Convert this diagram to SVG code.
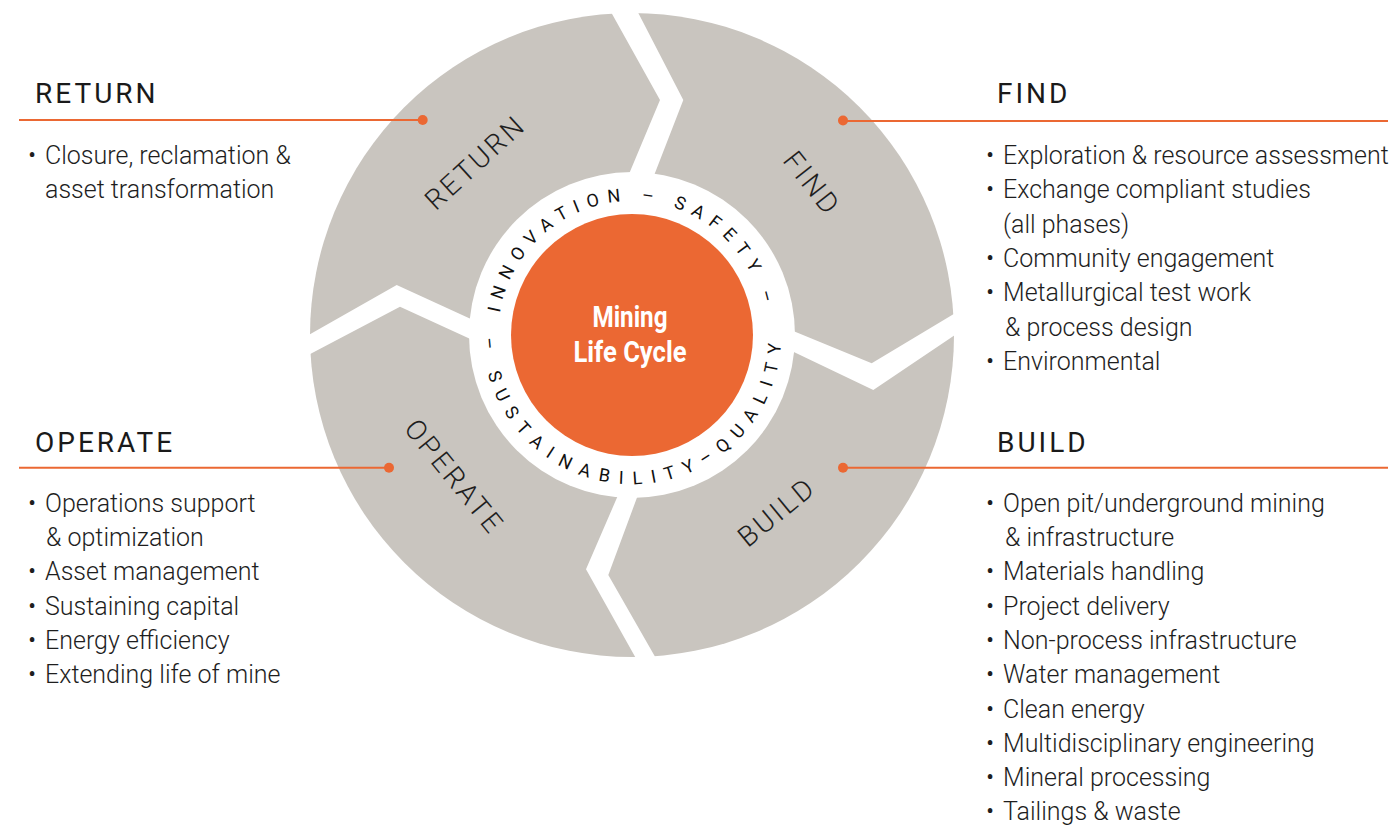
<svg xmlns="http://www.w3.org/2000/svg" width="1393" height="830" viewBox="0 0 1393 830">
  <style>
    .gray { fill: #c9c5bf; }
    .gap { fill: #ffffff; }
    .head { font-family: Roboto, "Liberation Sans", sans-serif; font-size: 28px; font-weight: 400; letter-spacing: 3px; fill: #1a1a1a; }
    .seg { font-family: Roboto, "Liberation Sans", sans-serif; font-size: 28px; font-weight: 300; letter-spacing: 3px; fill: #1e1e1e; text-anchor: middle; }
    .li { font-family: Roboto, "Liberation Sans", sans-serif; font-size: 25px; font-weight: 300; fill: #1e1e1e; }
    .ring { font-family: Roboto, "Liberation Sans", sans-serif; font-size: 18px; font-weight: 400; fill: #111111; }
    .title { font-family: Roboto, "Liberation Sans", sans-serif; font-size: 29px; font-weight: 700; fill: #ffffff; text-anchor: middle; }
    .conn { stroke: #eb6833; stroke-width: 2; fill: none; }
    .dot { fill: #eb6833; }
  </style>
  <defs>
    <path id="arcTop" d="M 498 335 A 134 134 0 0 1 766 335"/>
    <path id="arcBot" d="M 483 335 A 149 149 0 1 0 778.7 309.1"/>
  </defs>
  <rect width="1393" height="830" fill="#ffffff"/>

  <g id="wheel">
    <circle class="gray" cx="632" cy="335" r="322"/>
    <polygon class="gap" points="601.5,-5 660,100 622.3,190 648.4,190 683.3,100 629,-5"/>
    <polygon class="gap" points="295,342.8 396.7,285 490,327.8 490,348 400,306.7 295,362.1"/>
    <polygon class="gap" points="775,323.5 871.7,363.3 975,301.3 975,321.5 873.3,390 775,342.9"/>
    <polygon class="gap" points="624.6,480 586,569.3 645.3,675 665.5,675 608.3,575 643.5,480"/>
  </g>

  <g id="core">
    <circle cx="632" cy="335" r="163" fill="#ffffff"/>
    <circle cx="632" cy="335" r="121" fill="#eb6833"/>
    <text class="ring" letter-spacing="8"><textPath href="#arcTop" startOffset="22">INNOVATION – SAFETY –</textPath></text>
    <text class="ring" letter-spacing="9.6"><textPath href="#arcBot" startOffset="3">– SUSTAINABILITY–QUALITY</textPath></text>
    <text class="title" x="630" y="327" textLength="75" lengthAdjust="spacingAndGlyphs">Mining</text>
    <text class="title" x="630" y="362" textLength="113" lengthAdjust="spacingAndGlyphs">Life Cycle</text>
  </g>

  <g id="seg-return"><text class="seg" transform="translate(475,162) rotate(-42.4)" x="0" y="10">RETURN</text></g>
  <g id="seg-find"><text class="seg" transform="translate(812.4,183.3) rotate(51.7)" x="0" y="10">FIND</text></g>
  <g id="seg-operate"><text class="seg" transform="translate(454.7,476.7) rotate(50.8)" x="0" y="10" letter-spacing="1.5">OPERATE</text></g>
  <g id="seg-build"><text class="seg" transform="translate(776.6,511.7) rotate(-39.3)" x="0" y="10">BUILD</text></g>

  <g id="connectors">
    <line class="conn" x1="19" y1="120" x2="422.7" y2="120"/>
    <circle class="dot" cx="422.7" cy="120" r="5"/>
    <line class="conn" x1="843" y1="121" x2="1388" y2="121"/>
    <circle class="dot" cx="843" cy="120.5" r="5"/>
    <line class="conn" x1="19" y1="467.7" x2="389" y2="467.7"/>
    <circle class="dot" cx="389" cy="467.7" r="5"/>
    <line class="conn" x1="843" y1="467.7" x2="1388" y2="467.7"/>
    <circle class="dot" cx="843" cy="467.7" r="5"/>
  </g>

  <g id="return">
    <text class="head" x="35" y="103">RETURN</text>
    <text class="li" y="164"><tspan x="28">•</tspan><tspan x="45">Closure, reclamation &amp;</tspan></text>
    <text class="li" x="45" y="198">asset transformation</text>
  </g>

  <g id="find">
    <text class="head" x="997" y="102.7">FIND</text>
    <text class="li" y="164"><tspan x="986">•</tspan><tspan x="1003">Exploration &amp; resource assessment</tspan></text>
    <text class="li" y="198.3"><tspan x="986">•</tspan><tspan x="1003">Exchange compliant studies</tspan></text>
    <text class="li" x="1003" y="232.6">(all phases)</text>
    <text class="li" y="266.9"><tspan x="986">•</tspan><tspan x="1003">Community engagement</tspan></text>
    <text class="li" y="301.2"><tspan x="986">•</tspan><tspan x="1003">Metallurgical test work</tspan></text>
    <text class="li" x="1005" y="335.5">&amp; process design</text>
    <text class="li" y="369.8"><tspan x="986">•</tspan><tspan x="1003">Environmental</tspan></text>
  </g>

  <g id="operate">
    <text class="head" x="35" y="451.7">OPERATE</text>
    <text class="li" y="511.7"><tspan x="28">•</tspan><tspan x="45">Operations support</tspan></text>
    <text class="li" x="46" y="546">&amp; optimization</text>
    <text class="li" y="580.3"><tspan x="28">•</tspan><tspan x="45">Asset management</tspan></text>
    <text class="li" y="614.6"><tspan x="28">•</tspan><tspan x="45">Sustaining capital</tspan></text>
    <text class="li" y="648.9"><tspan x="28">•</tspan><tspan x="45">Energy efficiency</tspan></text>
    <text class="li" y="683.2"><tspan x="28">•</tspan><tspan x="45">Extending life of mine</tspan></text>
  </g>

  <g id="build">
    <text class="head" x="997" y="451.7">BUILD</text>
    <text class="li" y="511.7"><tspan x="986">•</tspan><tspan x="1003">Open pit/underground mining</tspan></text>
    <text class="li" x="1005" y="546">&amp; infrastructure</text>
    <text class="li" y="580.3"><tspan x="986">•</tspan><tspan x="1003">Materials handling</tspan></text>
    <text class="li" y="614.6"><tspan x="986">•</tspan><tspan x="1003">Project delivery</tspan></text>
    <text class="li" y="648.9"><tspan x="986">•</tspan><tspan x="1003">Non-process infrastructure</tspan></text>
    <text class="li" y="683.2"><tspan x="986">•</tspan><tspan x="1003">Water management</tspan></text>
    <text class="li" y="717.5"><tspan x="986">•</tspan><tspan x="1003">Clean energy</tspan></text>
    <text class="li" y="751.8"><tspan x="986">•</tspan><tspan x="1003">Multidisciplinary engineering</tspan></text>
    <text class="li" y="786.1"><tspan x="986">•</tspan><tspan x="1003">Mineral processing</tspan></text>
    <text class="li" y="820.4"><tspan x="986">•</tspan><tspan x="1003">Tailings &amp; waste</tspan></text>
  </g>
</svg>
